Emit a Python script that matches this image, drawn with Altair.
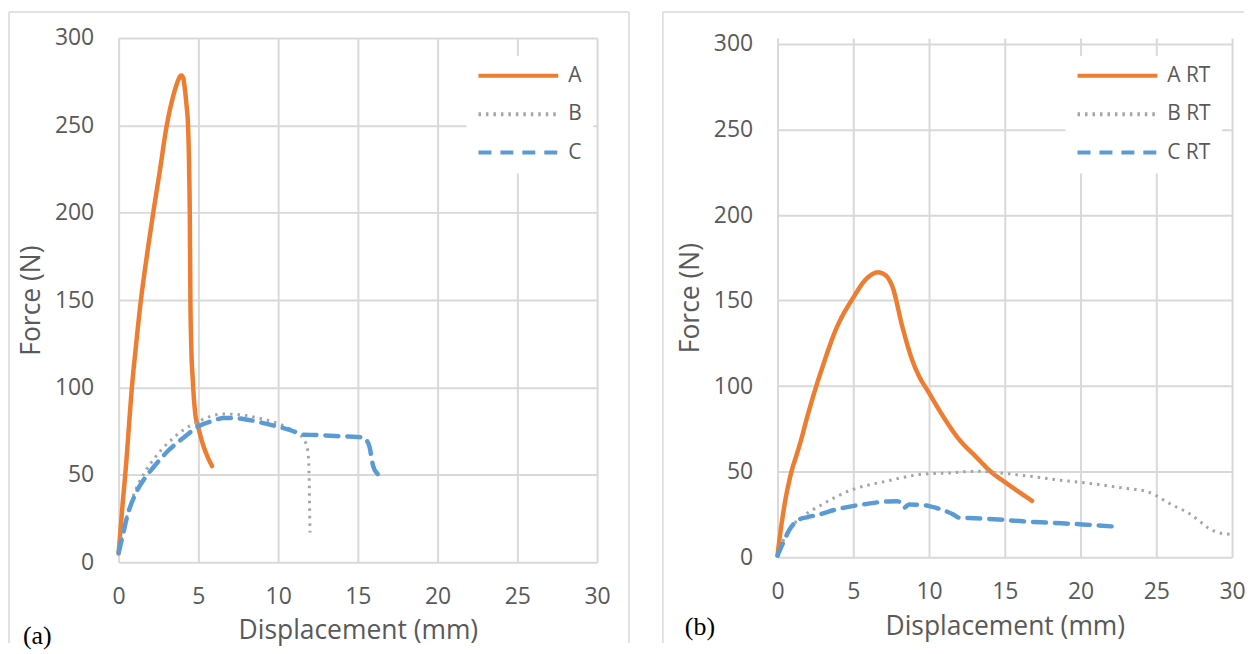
import altair as alt
import pandas as pd

# ---------------- data ----------------
# Panel (a)
a_names = ["A", "B", "C"]
a_A_x = [0, 0.2, 0.44, 0.86, 1.1, 1.37, 1.75, 2.17, 2.6, 2.98, 3.4, 3.7, 3.85, 3.94, 4.05, 4.15, 4.25, 4.35, 4.42, 4.46, 4.48, 4.5, 4.55, 4.65, 4.8, 5.0, 5.2, 5.5, 5.86]
a_A_y = [5, 28, 53, 103, 125, 148, 174, 200, 225, 248, 266, 275, 278, 278.5, 277, 271, 262, 250, 225, 200, 175, 150, 125, 104, 85.4, 77, 70, 62, 55]
a_B_x = [0, 0.25, 0.64, 1.0, 1.48, 2.0, 2.6, 3.3, 4.08, 4.9, 5.75, 6.6, 7.4, 8.25, 9.1, 9.9, 10.6, 11.2, 11.55, 11.8, 11.9, 11.94, 11.96, 11.98, 12.0]
a_B_y = [4.6, 17, 30, 40, 49, 56.5, 63.5, 70, 75.9, 80, 83.5, 84.8, 84.6, 83.5, 81.8, 79.7, 77, 74, 71, 66.3, 60, 50, 40, 28, 17]
a_C_x = [0, 0.25, 0.54, 1.0, 1.58, 2.1, 2.6, 3.1, 3.67, 4.3, 5.0, 5.8, 6.6, 7.2, 7.8, 8.9, 9.9, 10.8, 11.6, 12.4, 13.25, 14.1, 14.9, 15.4, 15.6, 15.75, 15.85, 15.96, 16.27, 16.5]
a_C_y = [5.5, 15, 26.4, 38, 47.3, 53.5, 58.8, 63.8, 68.3, 73, 77.8, 80.6, 82.5, 82.5, 82, 80, 77.8, 75.5, 73, 72.8, 72.4, 72, 71.7, 71.3, 69, 65.4, 60, 55, 50, 46]

# Panel (b)
b_names = ["A RT", "B RT", "C RT"]
b_A_x = [0, 0.13, 0.45, 0.9, 1.3, 1.56, 1.9, 2.55, 3.0, 3.42, 3.8, 4.19, 4.6, 4.95, 5.3, 5.6, 6.1, 6.6, 7.1, 7.59, 8.24, 8.9, 9.45, 9.9, 10.88, 11.97, 13.07, 14.17, 15.0, 15.7, 16.8]
b_A_y = [1, 10.5, 30, 49.3, 61, 68.7, 80, 99.8, 112, 123, 132, 139.5, 146, 151, 156, 160, 164.5, 166.5, 165, 158, 134.7, 115, 104, 97.5, 83, 69, 59, 49.3, 44, 39.6, 33]
b_B_x = [0, 0.5, 1.0, 1.45, 2.0, 2.76, 3.8, 4.95, 6.0, 7.15, 8.2, 9.3, 10.4, 11.5, 12.4, 13.3, 14.5, 15.7, 17.0, 18.3, 19.8, 21.2, 22.8, 24.3, 25.0, 25.6, 26.3, 27.1, 27.8, 28.4, 29.1, 30.0]
b_B_y = [1, 12, 19, 22, 26, 29.9, 35, 39.6, 42.2, 44.4, 46.5, 48.3, 49, 49.3, 50, 50.3, 49.5, 48.3, 47, 45.4, 44, 42.5, 40.5, 38.6, 36, 32.8, 29.5, 26, 21.5, 17.3, 14.4, 13.4]
b_C_x = [0, 0.4, 0.8, 1.45, 2.0, 2.76, 3.8, 4.95, 5.9, 6.7, 7.3, 7.9, 8.15, 8.35, 8.7, 9.3, 9.8, 10.5, 11.1, 11.6, 12.0, 13.0, 14.6, 16.2, 17.9, 20.1, 22.3]
b_C_y = [1, 9, 16.3, 22.1, 23.5, 25, 27.8, 29.9, 31.2, 32.2, 32.6, 32.8, 31.5, 29, 30.9, 30.6, 30.3, 28.8, 27, 25, 23.1, 22.8, 22.1, 21, 20.2, 19.2, 17.9]

x_ticks = [0, 5, 10, 15, 20, 25, 30]
y_ticks = [0, 50, 100, 150, 200, 250, 300]

COLORS = ["#ED7D31", "#A5A5A5", "#5B9BD5"]
DASHES = [[1, 0], [2.5, 5], [13, 9]]
WIDTHS = [4.5, 3, 4.5]
CAPS = ["round", "butt", "round"]
GRID = "#D9D9D9"
TXT = "#595959"
FONT = "Open Sans"


def make_df(names, xs_list, ys_list):
    rows = []
    for name, xs, ys in zip(names, xs_list, ys_list):
        for i, (x, y) in enumerate(zip(xs, ys)):
            rows.append({"series": name, "x": x, "y": y, "i": i})
    return pd.DataFrame(rows)


def panel(df, names, width, height, ymax, leg_x, leg_y, label, lab_x, lab_y, frame, right_edge):
    legend = alt.Legend(
        orient="none", legendX=leg_x, legendY=leg_y, title=None,
        symbolType="stroke", symbolSize=6400, symbolStrokeWidth=4,
        clipHeight=20, rowPadding=17.5, labelOffset=8,
        labelFont=FONT, labelFontSize=21, labelColor=TXT,
        fillColor="white", padding=10, strokeColor="white",
    )
    layers = []
    for name, w, cap in zip(names, WIDTHS, CAPS):
        layers.append(
            alt.Chart(df).transform_filter(alt.datum.series == name)
            .mark_line(strokeWidth=w, strokeCap=cap, strokeJoin="round", interpolate="monotone")
            .encode(
                x=alt.X("x:Q", scale=alt.Scale(domain=[0, 30], nice=False),
                        axis=alt.Axis(values=x_ticks, title="Displacement (mm)")),
                y=alt.Y("y:Q", scale=alt.Scale(domain=[0, ymax], nice=False),
                        axis=alt.Axis(values=y_ticks, title="Force (N)")),
                color=alt.Color("series:N", scale=alt.Scale(domain=names, range=COLORS), legend=legend),
                strokeDash=alt.StrokeDash("series:N", scale=alt.Scale(domain=names, range=DASHES), legend=legend),
                order="i:Q",
            )
        )
    one = pd.DataFrame({"k": [0]})
    fl, ft, fr, fb = frame
    layers.append(alt.Chart(one).mark_rule(color=GRID, strokeWidth=1.5).encode(
        x=alt.value(fl), y=alt.value(ft), y2=alt.value(fb)))
    layers.append(alt.Chart(one).mark_rule(color=GRID, strokeWidth=1.5).encode(
        x=alt.value(fl), x2=alt.value(fr), y=alt.value(ft)))
    if right_edge:
        layers.append(alt.Chart(one).mark_rule(color=GRID, strokeWidth=1.5).encode(
            x=alt.value(fr), y=alt.value(ft), y2=alt.value(fb)))
    layers.append(alt.Chart(one).mark_text(font="Liberation Serif", fontSize=26, color="#000000",
                                           align="left", baseline="middle").encode(
        x=alt.value(lab_x), y=alt.value(lab_y), text=alt.value(label)))
    return alt.layer(*layers).properties(width=width, height=height)


df_a = make_df(a_names, [a_A_x, a_B_x, a_C_x], [a_A_y, a_B_y, a_C_y])
df_b = make_df(b_names, [b_A_x, b_B_x, b_C_x], [b_A_y, b_B_y, b_C_y])

left = panel(df_a, a_names, 480, 526, 300, 349, 18, "(a)", -96, 600, (-110, -26, 512, 607), True)
right = panel(df_b, b_names, 456, 521, 300 * 521 / 515, 289, 18, "(b)", -93, 591, (-115, -26, 468, 607), False)

chart = alt.hconcat(left, right, spacing=32).resolve_scale(
    color="independent", strokeDash="independent"
).resolve_legend(color="independent", strokeDash="independent").properties(
    padding={"left": 0, "top": 2, "right": 0, "bottom": 0}
).configure_view(stroke=None).configure_axis(
    grid=True, gridColor=GRID, gridWidth=2, domain=False, ticks=False, labelFlush=False,
    labelFont=FONT, labelFontSize=23, labelColor=TXT,
    titleFont=FONT, titleFontSize=26.5, titleColor=TXT, titleFontWeight="normal",
).configure_axisX(labelPadding=23, titlePadding=10).configure_axisY(
    labelPadding=25, titlePadding=9
)

chart.save("out.html", embed_options={"renderer": "svg", "actions": False})
